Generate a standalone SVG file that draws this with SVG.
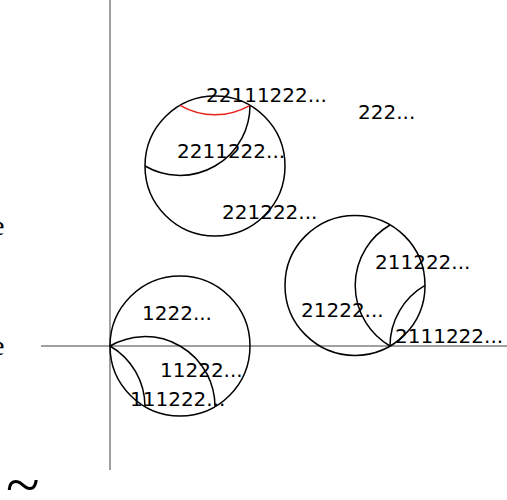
<svg xmlns="http://www.w3.org/2000/svg" width="507" height="500" viewBox="0 0 507 500">
<style>
.ax{stroke:#808080;stroke-width:1.5;fill:none}
.c{stroke:#000;stroke-width:1.5;fill:none}
.r{stroke:#e8201a;stroke-width:1.5;fill:none}
.t{font-family:"DejaVu Sans",sans-serif;font-size:20px;fill:#000}
.s{font-family:"Liberation Serif",serif;fill:#000}
</style>
<rect width="507" height="500" fill="#fff"/>
<g id="axes">
<line class="ax" x1="110" y1="0" x2="110" y2="470"/>
<line class="ax" x1="41" y1="346" x2="507" y2="346"/>
<text class="s" x="-8" y="235" font-size="28">e</text>
<text class="s" x="-8" y="355" font-size="28">e</text>
<text class="s" x="6" y="505" font-size="62">~</text>
</g>
<g id="circle-top">
<circle class="c" cx="215" cy="166" r="70"/>
<path class="r" d="M180,105.4 A70,70 0 0 0 250,105.4"/>
<path class="c" d="M250,105.4 A70,70 0 0 1 145,166"/>
<text class="t" x="206" y="102">22111222...</text>
<text class="t" x="177" y="158">2211222...</text>
<text class="t" x="222" y="219">221222...</text>
</g>
<g id="label-222">
<text class="t" x="358" y="119">222...</text>
</g>
<g id="circle-right">
<circle class="c" cx="355" cy="285.4" r="70"/>
<path class="c" d="M390,225 A70,70 0 0 0 390,346"/>
<path class="c" d="M425,285.4 A70,70 0 0 0 390,346"/>
<text class="t" x="375" y="269">211222...</text>
<text class="t" x="301" y="317">21222...</text>
<text class="t" x="395" y="343">2111222...</text>
</g>
<g id="circle-left">
<circle class="c" cx="180" cy="346" r="70"/>
<path class="c" d="M110,346 A70,70 0 0 1 215,406.6"/>
<path class="c" d="M110,346 A70,70 0 0 1 145,406.6"/>
<text class="t" x="142" y="320">1222...</text>
<text class="t" x="160" y="377">11222...</text>
<text class="t" x="130" y="406">111222...</text>
</g>
</svg>
